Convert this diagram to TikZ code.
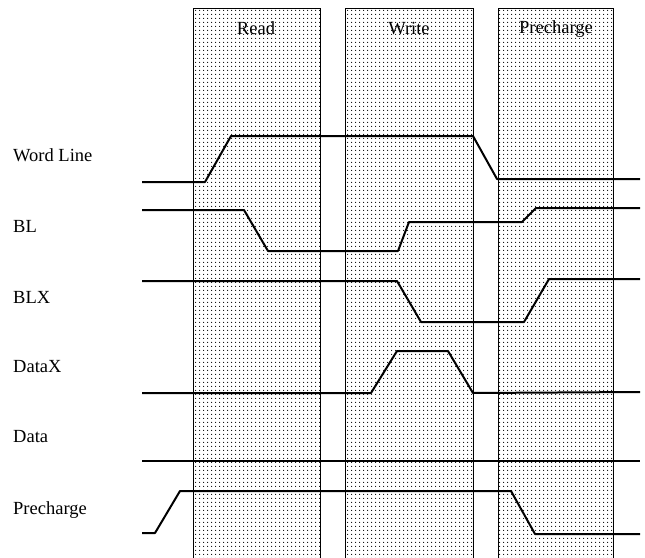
\documentclass[tikz,border=0pt]{standalone}
\usepackage{fontspec}
\setmainfont{Liberation Serif}
\usetikzlibrary{patterns.meta}
\begin{document}
\begin{tikzpicture}[x=1pt,y=-1pt,
  panel/.style={draw=black,line width=0.8pt,pattern={Dots[distance=4pt,radius=0.7pt]},pattern color=black},
  wave/.style={line width=2pt,line join=round},
  lbl/.style={anchor=west,inner sep=0pt,font=\fontsize{18.5}{22}\selectfont},
  ttl/.style={inner sep=0pt,font=\fontsize{18.5}{22}\selectfont}]
\useasboundingbox (0,0) rectangle (645,557);
% panels
\path[panel] (193,560) -- (193,8) -- (320,8) -- (320,560);
\path[panel] (345,560) -- (345,8) -- (473,8) -- (473,560);
\path[panel] (498,560) -- (498,8) -- (613,8) -- (613,560);
\node[ttl] (tread) at (256,28) {Read};
\node[ttl] (twrite) at (409,29) {Write};
\node[ttl] (tpre) at (556,29) {Precharge};
% labels
\node[lbl] (lwl) at (13,155) {Word Line};
\node[lbl] (lbl) at (13,226) {BL};
\node[lbl] (lblx) at (13,297) {BLX};
\node[lbl] (ldx) at (13,367) {DataX};
\node[lbl] (ld) at (13,437) {Data};
\node[lbl] (lpc) at (13,510) {Precharge};
% waveforms
\draw[wave] (142,182) -- (205,182) -- (231,136) -- (473,136) -- (497,179) -- (640,179);
\draw[wave] (142,210) -- (244,210) -- (268,251) -- (398,251) -- (409,222) -- (522,222) -- (536,208) -- (640,208);
\draw[wave] (142,281) -- (397,281) -- (421,322) -- (524,322) -- (549,279) -- (640,279);
\draw[wave] (142,393) -- (371,393) -- (397,351) -- (448,351) -- (473,393) -- (640,392);
\draw[wave] (142,461) -- (640,461);
\draw[wave] (142,533) -- (155,533) -- (180,491) -- (511,491) -- (535,534) -- (640,534);
\end{tikzpicture}
\end{document}
